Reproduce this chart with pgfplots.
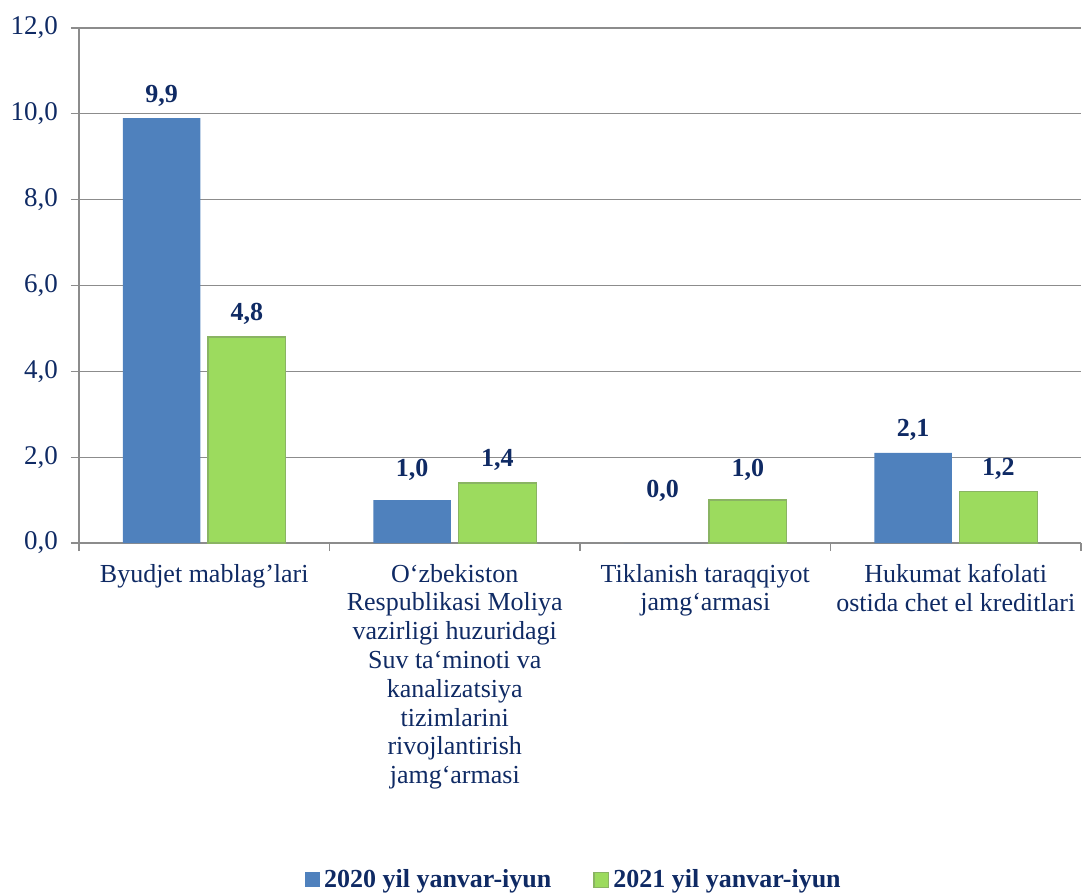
\documentclass[border=0pt]{standalone}
\usepackage{pgfplots}
\pgfplotsset{compat=1.18}
\usepackage{pgfplotstable}
\usepackage{fontspec}
\setmainfont{Liberation Serif}
\definecolor{navy}{HTML}{0F2A64}
\definecolor{bblue}{HTML}{4F81BD}
\definecolor{gmid}{HTML}{9CDB5E}
\definecolor{gborder}{HTML}{8AB463}
\definecolor{gridgray}{HTML}{8C8C8C}

\pgfplotstableread{
x y off
0 9.9 2.5
1 1.0 6
2 0.0 17
3 2.1 2.5
}\tblA
\pgfplotstableread{
x y off
0 4.8 2.5
1 1.4 2.5
2 1.0 6
3 1.2 2.5
}\tblB

\begin{document}
\begin{tikzpicture}
\useasboundingbox (-39.5pt,-176pt) rectangle (501.5pt,271.5pt);
\begin{axis}[
  at={(0,0)}, anchor=south west,
  scale only axis, width=501pt, height=257.5pt,
  xmin=-0.5, xmax=3.5, ymin=0, ymax=12,
  ytick={0,2,...,12},
  xtick={0,1,2,3},
  xticklabels={
    {Byudjet mablag’lari},
    {O‘zbekiston\\Respublikasi Moliya\\vazirligi huzuridagi\\Suv ta‘minoti va\\kanalizatsiya\\tizimlarini\\rivojlantirish\\jamg‘armasi},
    {Tiklanish taraqqiyot\\jamg‘armasi},
    {Hukumat kafolati\\ostida chet el kreditlari}},
  minor xtick={-0.5,0.5,1.5,2.5,3.5},
  major x tick style={draw=none},
  tick align=outside,
  major tick length=4pt, minor tick length=4pt,
  tick style={gridgray, line width=0.6pt},
  axis x line*=bottom, axis y line*=left,
  axis line style={gridgray, line width=0.6pt},
  ymajorgrids, grid style={gridgray, line width=0.6pt},
  ticklabel style={text=navy},
  xticklabel style={font=\fontsize{13}{14.4}\selectfont, align=center, yshift=-3pt},
  yticklabel style={font=\fontsize{13.5}{15}\selectfont, xshift=-3pt},
  y tick label style={/pgf/number format/.cd, use comma, fixed, fixed zerofill, precision=1, assume math mode=true},
  ybar, bar width=0.31,
  nodes near coords={\pgfmathprintnumber[use comma, fixed, fixed zerofill, precision=1, assume math mode=true]{\pgfplotspointmeta}},
  every node near coord/.append style={font=\fontsize{13}{15}\selectfont\bfseries, text=navy},
  legend style={at={(0.495,-0.654)}, anchor=center, draw=none, fill=none,
    legend columns=2, font=\fontsize{13}{15}\selectfont\bfseries, text=navy,
    /tikz/every even column/.append style={column sep=19pt}},
]
\addplot[fill=bblue, draw=none, bar shift=-0.17,
  visualization depends on={\thisrow{off} \as \off},
  every node near coord/.append style={yshift=\off pt},
  legend image code/.code={\fill[bblue] (0pt,-3.7pt) rectangle (7.4pt,3.7pt);}]
  table[x=x, y=y] {\tblA};
\addlegendentry{2020 yil yanvar-iyun}
\addplot[fill=gmid, draw=gborder, line width=0.6pt, bar shift=0.17,
  visualization depends on={\thisrow{off} \as \off},
  every node near coord/.append style={yshift=\off pt},
  legend image code/.code={\draw[fill=gmid, draw=gborder] (0pt,-3.7pt) rectangle (7.4pt,3.7pt);}]
  table[x=x, y=y] {\tblB};
\addlegendentry{2021 yil yanvar-iyun}
\end{axis}
\end{tikzpicture}
\end{document}
